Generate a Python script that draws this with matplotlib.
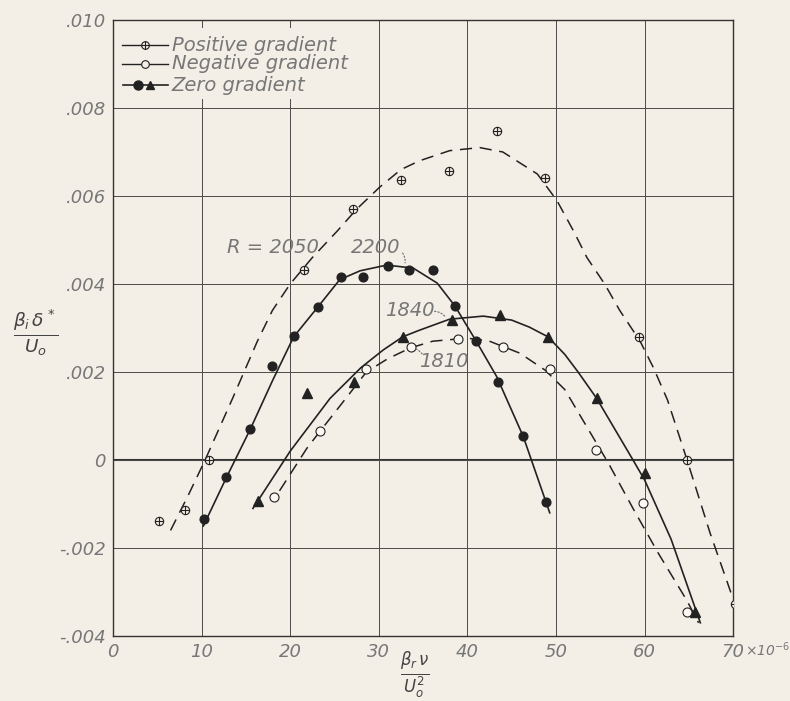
import matplotlib
matplotlib.use('Agg')
import matplotlib.pyplot as plt
from matplotlib.path import Path
from matplotlib.patches import Rectangle

# --- puntos medidos (x en 1e-6, y adimensional) ---
pos_x = [5.2, 8.1, 10.8, 21.6, 27.1, 32.5, 37.9, 43.3, 48.8, 59.4, 64.8, 70.2]
pos_y = [-0.00139, -0.00114, 0.0, 0.00432, 0.0057, 0.00636, 0.00656, 0.00747, 0.0064, 0.0028, 0.0, -0.00327]

neg_x = [18.2, 23.4, 28.6, 33.6, 38.9, 44.0, 49.3, 54.5, 59.8, 64.8]
neg_y = [-0.00084, 0.00066, 0.00207, 0.00257, 0.00275, 0.00257, 0.00207, 0.00023, -0.00098, -0.00345]

cero_c_x = [10.3, 12.8, 15.5, 17.9, 20.4, 23.1, 25.7, 28.2, 31.0, 33.4, 36.1, 38.6, 41.0, 43.5, 46.3, 48.9]
cero_c_y = [-0.00134, -0.00039, 0.0007, 0.00213, 0.00281, 0.00347, 0.00415, 0.00415, 0.0044, 0.00431,
            0.00431, 0.0035, 0.0027, 0.00177, 0.00054, -0.00095]

cero_t_x = [16.4, 21.9, 27.2, 32.7, 38.3, 43.7, 49.1, 54.6, 60.0, 65.7]
cero_t_y = [-0.00093, 0.00152, 0.00177, 0.0028, 0.00318, 0.00329, 0.0028, 0.00141, -0.0003, -0.00345]

# --- curvas trazadas a mano ---
curva_pos_x = [6.5, 8.5, 10.4, 13.5, 16.3, 18.0, 20.0, 22.5, 25.3, 27.5, 30.1, 32.5, 34.6, 38.0, 41.4,
               44.0, 47.9, 50.1, 52.0, 53.5, 55.5, 57.2, 59.5, 61.0, 62.6, 64.8, 67.4, 69.9]
curva_pos_y = [-0.0016, -0.0008, 0.0, 0.0014, 0.0027, 0.0034, 0.0040, 0.0046, 0.0052, 0.0057, 0.0062,
               0.0066, 0.0068, 0.00703, 0.0071, 0.0070, 0.0065, 0.0059, 0.0052, 0.0046, 0.0040, 0.0034,
               0.0027, 0.0021, 0.00136, 0.0, -0.00166, -0.0031]

curva_neg_x = [18.8, 21.9, 23.4, 26.4, 28.6, 31.0, 33.6, 36.1, 40.0, 42.5, 45.9, 48.8, 51.0, 53.5,
               56.0, 58.7, 61.5, 64.8, 66.1]
curva_neg_y = [-0.0007, 0.00027, 0.00066, 0.00143, 0.002, 0.0023, 0.00255, 0.0027, 0.00277, 0.0027,
               0.00243, 0.00204, 0.0016, 0.00075, -0.0001, -0.0011, -0.0021, -0.0032, -0.0037]

curva_c_x = [10.2, 12.8, 15.5, 18.0, 20.4, 23.1, 25.6, 27.9, 30.9, 33.9, 36.6, 38.6, 41.0, 43.3, 46.3, 49.3]
curva_c_y = [-0.0015, -0.0004, 0.0007, 0.0018, 0.0028, 0.00347, 0.0041, 0.0043, 0.00443, 0.00436,
             0.00402, 0.0035, 0.0027, 0.0019, 0.00054, -0.0012]

curva_t_x = [15.8, 20.0, 24.5, 28.0, 30.5, 32.7, 34.6, 38.0, 41.8, 45.0, 47.0, 49.1, 51.0, 52.5, 54.6,
             58.7, 60.0, 63.0, 66.3]
curva_t_y = [-0.0011, 0.0002, 0.0014, 0.0021, 0.0025, 0.0028, 0.00295, 0.0032, 0.00327, 0.00318, 0.00302,
             0.0028, 0.0024, 0.0020, 0.0014, 0.0, -0.00045, -0.0018, -0.0037]

y_ticks = [-0.004, -0.002, 0, 0.002, 0.004, 0.006, 0.008, 0.010]
y_labels = ['-.004', '-.002', '0', '.002', '.004', '.006', '.008', '.010']
x_ticks = [0, 10, 20, 30, 40, 50, 60, 70]
x_labels = ['0', '10', '20', '30', '40', '50', '60', '70']

PAPEL = '#f4efe6'
TINTA = '#222222'
GRIS = '#777777'

# marcador circulo con cruz
circulo = Path.unit_circle()
cruz = Path([(-1, 0), (1, 0), (0, -1), (0, 1)], [Path.MOVETO, Path.LINETO, Path.MOVETO, Path.LINETO])
OPLUS = Path.make_compound_path(circulo, cruz)

fig = plt.figure(figsize=(7.9, 7.01), dpi=100, facecolor=PAPEL)
ax = fig.add_axes([0.143, 0.0927, 0.785, 0.8788], facecolor=PAPEL)

ax.set_xlim(0, 70)
ax.set_ylim(-0.004, 0.010)
ax.set_xticks(x_ticks)
ax.set_xticklabels(x_labels)
ax.set_yticks(y_ticks)
ax.set_yticklabels(y_labels)
ax.tick_params(length=0, labelsize=13, labelcolor=GRIS, pad=5)
for t in ax.get_xticklabels() + ax.get_yticklabels():
    t.set_fontstyle('italic')
ax.grid(True, color='#4a4a4a', linewidth=0.7)
ax.axhline(0, color='#333333', linewidth=1.5, zorder=1)
for s in ax.spines.values():
    s.set_color('#333333')
    s.set_linewidth(1.0)

# curvas
ax.plot(curva_pos_x, curva_pos_y, color=TINTA, lw=1.1, dashes=(8, 5), zorder=2)
ax.plot(curva_neg_x, curva_neg_y, color=TINTA, lw=1.1, dashes=(8, 5), zorder=2)
ax.plot(curva_c_x, curva_c_y, color=TINTA, lw=1.2, zorder=2)
ax.plot(curva_t_x, curva_t_y, color=TINTA, lw=1.2, zorder=2)

# puntos
ax.plot(pos_x, pos_y, ls='none', marker=OPLUS, ms=6, mfc=PAPEL, mec=TINTA, mew=0.8, zorder=3)
ax.plot(neg_x, neg_y, ls='none', marker='o', ms=6.5, mfc='#fbf8f3', mec=TINTA, mew=0.8, zorder=3)
ax.plot(cero_c_x, cero_c_y, ls='none', marker='o', ms=6.3, color=TINTA, zorder=3)
ax.plot(cero_t_x, cero_t_y, ls='none', marker='^', ms=6.5, color=TINTA, zorder=3)

# etiquetas de R
txt = dict(fontsize=14, fontstyle='italic', color=GRIS, ha='center', va='center')
ax.text(18.1, 0.00484, 'R = 2050', **txt)
ax.text(29.6, 0.00484, '2200', **txt)
ax.text(33.5, 0.0034, '1840', **txt)
ax.text(37.3, 0.00223, '1810', **txt)
lider = dict(arrowstyle='-', color=GRIS, lw=0.9, linestyle=':', connectionstyle='arc3,rad=-0.3')
ax.annotate('', xy=(32.9, 0.00442), xytext=(32.5, 0.00475), arrowprops=lider)
ax.annotate('', xy=(37.7, 0.0032), xytext=(36.0, 0.00338), arrowprops=lider)
ax.annotate('', xy=(35.1, 0.00232), xytext=(33.9, 0.00254), arrowprops=lider)

# x 10^-6 despues del 70
ax.annotate(r'$\times$10$^{-6}$', xy=(70, -0.004), xytext=(12, -14), textcoords='offset pixels',
            ha='left', va='center', fontsize=10, fontstyle='italic', color=GRIS, annotation_clip=False)

# leyenda a mano
ax.add_patch(Rectangle((0.004, 0.872), 0.395, 0.115, transform=ax.transAxes,
                       facecolor=PAPEL, edgecolor='none', zorder=4))
filas = [0.959, 0.929, 0.894]
ax.plot([0.014, 0.088], [filas[0]] * 2, transform=ax.transAxes, color=TINTA, lw=1.0, zorder=5)
ax.plot([0.051], [filas[0]], transform=ax.transAxes, marker=OPLUS, ms=5.5, mfc=PAPEL, mec=TINTA,
        mew=0.8, zorder=6)
ax.plot([0.014, 0.088], [filas[1]] * 2, transform=ax.transAxes, color=TINTA, lw=1.0, zorder=5)
ax.plot([0.051], [filas[1]], transform=ax.transAxes, marker='o', ms=5.5, mfc=PAPEL, mec=TINTA,
        mew=0.8, zorder=6)
ax.plot([0.016, 0.088], [filas[2]] * 2, transform=ax.transAxes, color=TINTA, lw=1.2, zorder=5)
ax.plot([0.041], [filas[2]], transform=ax.transAxes, marker='o', ms=6.5, color=TINTA, zorder=6)
ax.plot([0.060], [filas[2]], transform=ax.transAxes, marker='^', ms=6, color=TINTA, zorder=6)
nombres = ['Positive gradient', 'Negative gradient', 'Zero gradient']
for yy, nom in zip(filas, nombres):
    ax.text(0.095, yy, nom, transform=ax.transAxes, fontsize=14, fontstyle='italic', color=GRIS,
            va='center', ha='left', zorder=6)

# rotulos de los ejes
fig.text(36 / 790, 1 - 333 / 701, r'$\frac{\beta_i\,\delta^*}{U_o}$', fontsize=19, color='#444444',
         ha='center', va='center')
fig.text(415 / 790, 1 - 676 / 701, r'$\frac{\beta_r\,\nu}{U_o^2}$', fontsize=17, color='#444444',
         ha='center', va='center')

fig.savefig('out.png', dpi=100, facecolor=PAPEL)
